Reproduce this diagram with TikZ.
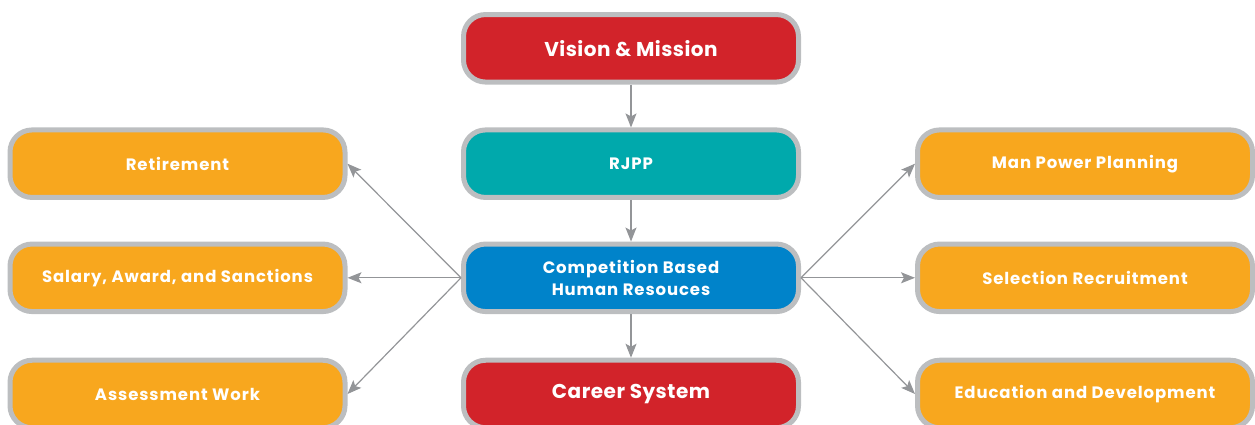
\documentclass[tikz,border=0pt]{standalone}
\usepackage{fontspec}
\setmainfont{Poppins}[LetterSpace=5.5]
\newfontfamily\bigfont{Poppins}[LetterSpace=2.5]
\usetikzlibrary{arrows.meta}

\definecolor{hrred}{HTML}{D2232A}
\definecolor{hrteal}{HTML}{00A9AC}
\definecolor{hrblue}{HTML}{0083CA}
\definecolor{hrorange}{HTML}{F8A71E}
\definecolor{hrrim}{HTML}{BCBEC0}
\definecolor{hrarrow}{HTML}{939598}

\tikzset{
  hrbox/.style={draw=hrrim, line width=5pt, rounded corners=22pt,
    minimum width=335pt, minimum height=67.5pt, text=white,
    font=\bfseries\fontsize{16.5}{22}\selectfont, align=center},
  bigbox/.style={hrbox, font=\bigfont\bfseries\fontsize{20}{24}\selectfont},
  hrarr/.style={draw=hrarrow, line width=1.2pt,
    -{Stealth[length=14pt, width=11pt, inset=3pt]}},
}

\begin{document}
\begin{tikzpicture}[x=1pt, y=1pt]
\useasboundingbox (0,0) rectangle (1255,425);

% centre column
\node[bigbox, fill=hrred]  (vision) at (631, 376.7) {Vision \& Mission};
\node[hrbox,  fill=hrteal] (rjpp)   at (631, 261.3) {RJPP};
\node[hrbox,  fill=hrblue] (cbhr)   at (631, 147.2) {Competition Based\\Human Resouces};
\node[bigbox, fill=hrred]  (career) at (631,  31) {Career System};

% left column
\node[hrbox, fill=hrorange] (retire) at (177.5, 261.3) {Retirement};
\node[hrbox, fill=hrorange] (salary) at (177.5, 147.2) {Salary, Award, and Sanctions};
\node[hrbox, fill=hrorange] (assess) at (177.5,  31) {Assessment Work};

% right column
\node[hrbox, fill=hrorange] (manpow) at (1085, 261.3) {Man Power Planning};
\node[hrbox, fill=hrorange] (select) at (1085, 147.2) {Selection Recruitment};
\node[hrbox, fill=hrorange] (educat) at (1085,  31) {Education and Development};

% arrows
\draw[hrarr] (vision) -- (rjpp);
\draw[hrarr] (rjpp)   -- (cbhr);
\draw[hrarr] (cbhr)   -- (career);
\foreach \t in {retire, salary, assess}
  \draw[hrarr] (cbhr.west) -- (\t.east);
\foreach \t in {manpow, select, educat}
  \draw[hrarr] (cbhr.east) -- (\t.west);
\end{tikzpicture}
\end{document}
